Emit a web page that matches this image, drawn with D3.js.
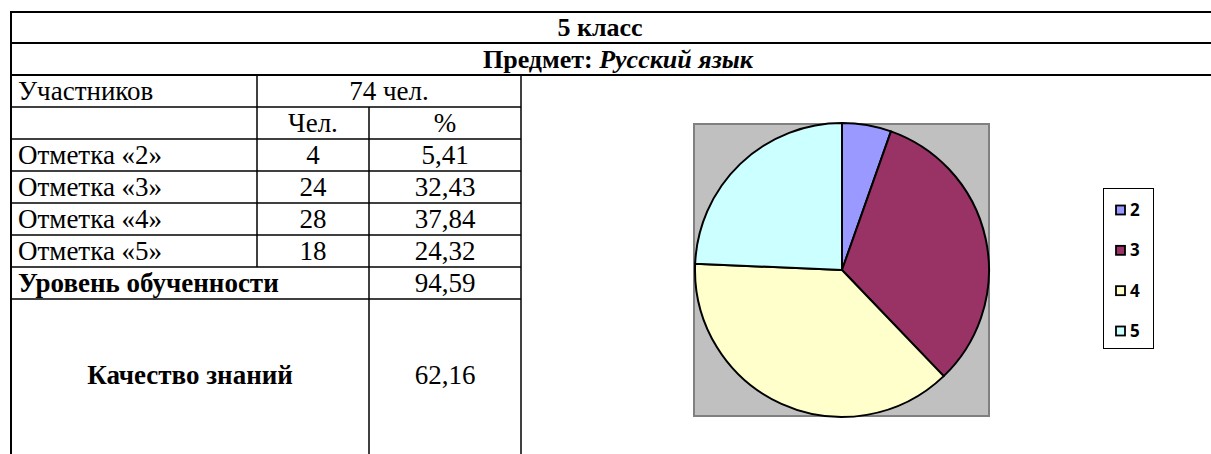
<!DOCTYPE html>
<html><head><meta charset="utf-8">
<script src="https://cdn.jsdelivr.net/npm/d3@7/dist/d3.min.js"></script>
<style>body{margin:0;background:#fff}svg{display:block}</style>
</head><body>
<svg id="c" width="1211" height="454"></svg>
<script>
const title = "5 класс";
const subjectLabel = "Предмет: ";
const subject = "Русский язык";
const participantsLabel = "Участников";
const participants = "74 чел.";
const colHeaders = ["Чел.", "%"];
const gradeLabels = ["Отметка «2»", "Отметка «3»", "Отметка «4»", "Отметка «5»"];
const gradeCounts = [4, 24, 28, 18];
const gradePercents = ["5,41", "32,43", "37,84", "24,32"];
const levelLabel = "Уровень обученности";
const levelValue = "94,59";
const qualityLabel = "Качество знаний";
const qualityValue = "62,16";
const legendKeys = ["2", "3", "4", "5"];
const sliceColors = ["#9999ff", "#993366", "#ffffcc", "#ccffff"];

const svg = d3.select("#c");
const serif = "'Liberation Serif','Times New Roman',serif";
const L = 11, R = 1212, C1 = 257, C2 = 369, C3 = 521;
const rowY = [12, 43, 75, 107, 139, 171, 203, 235, 267, 299, 456];

const g = svg.append("g");
function line(x1, y1, x2, y2, w) {
  g.append("line").attr("x1", x1).attr("y1", y1).attr("x2", x2).attr("y2", y2)
    .attr("stroke", "#000").attr("stroke-width", w || 1.5);
}
line(L - 1, rowY[0], R, rowY[0], 2);
line(L - 1, rowY[1], R, rowY[1], 2);
line(L - 1, rowY[2], R, rowY[2], 2);
for (let i = 3; i <= 9; i++) line(L, rowY[i], C3, rowY[i], 1.5);
line(L, rowY[0], L, 454, 2);
line(R, rowY[0], R, 454, 2);
line(C3, rowY[2], C3, 454, 1.5);
line(C1, rowY[2], C1, rowY[8], 1.5);
line(C2, rowY[3], C2, rowY[8], 1.5);
line(C2, rowY[8], C2, 454, 1.5);

const FS = 27;
function txt(x, y, s, opts) {
  opts = opts || {};
  const t = g.append("text").attr("x", x).attr("y", y)
    .attr("font-family", serif).attr("font-size", opts.size || FS)
    .attr("text-anchor", opts.anchor || "start")
    .attr("font-weight", opts.bold ? "bold" : "normal")
    .attr("fill", "#000");
  t.text(s);
  return t;
}
const mid = (a, b) => (a + b) / 2;
const base = i => rowY[i] + 25;

txt(600, rowY[0] + 24, title, {anchor: "middle", bold: true, size: 26});
const sub = txt(618, rowY[1] + 25, "", {anchor: "middle", bold: true, size: 26});
sub.append("tspan").text(subjectLabel);
sub.append("tspan").attr("font-style", "italic").text(subject);

txt(18, base(2), participantsLabel);
txt(mid(C1, C3), base(2), participants, {anchor: "middle"});
txt(mid(C1, C2), base(3), colHeaders[0], {anchor: "middle"});
txt(mid(C2, C3), base(3), colHeaders[1], {anchor: "middle"});
gradeLabels.forEach((lab, i) => {
  txt(18, base(4 + i), lab);
  txt(mid(C1, C2), base(4 + i), gradeCounts[i], {anchor: "middle"});
  txt(mid(C2, C3), base(4 + i), gradePercents[i], {anchor: "middle"});
});
txt(18, base(8), levelLabel, {bold: true});
txt(mid(C2, C3), base(8), levelValue, {anchor: "middle"});
txt(mid(L, C2), 384, qualityLabel, {anchor: "middle", bold: true});
txt(mid(C2, C3), 384, qualityValue, {anchor: "middle"});

// Pie chart
const plot = {x: 694, y: 124, w: 295, h: 292};
svg.append("rect").attr("x", plot.x).attr("y", plot.y).attr("width", plot.w).attr("height", plot.h)
  .attr("fill", "#c0c0c0").attr("stroke", "#808080").attr("stroke-width", 2);
const cx = 842, cy = 270, r = 147;
const pie = d3.pie().sort(null).value(d => d)(gradeCounts);
const arc = d3.arc().innerRadius(0).outerRadius(r);
svg.append("g").attr("transform", `translate(${cx},${cy})`)
  .selectAll("path").data(pie).join("path")
  .attr("d", arc).attr("fill", (d, i) => sliceColors[i])
  .attr("stroke", "#000").attr("stroke-width", 2).attr("stroke-linejoin", "round");

// Legend
const lg = svg.append("g");
lg.append("rect").attr("x", 1103.5).attr("y", 188.5).attr("width", 50).attr("height", 160)
  .attr("fill", "#fff").attr("stroke", "#000").attr("stroke-width", 1);
const ly = d3.scalePoint().domain(legendKeys).range([210, 331]);
legendKeys.forEach((k, i) => {
  lg.append("rect").attr("x", 1116).attr("y", ly(k) - 4.5).attr("width", 9).attr("height", 9)
    .attr("fill", sliceColors[i]).attr("stroke", "#000").attr("stroke-width", 1.8);
  lg.append("text").attr("x", 1130).attr("y", ly(k) + 6)
    .attr("font-family", "'Open Sans','Liberation Sans',sans-serif").attr("font-weight", "bold")
    .attr("font-size", 17).text(k);
});
</script>
</body></html>
